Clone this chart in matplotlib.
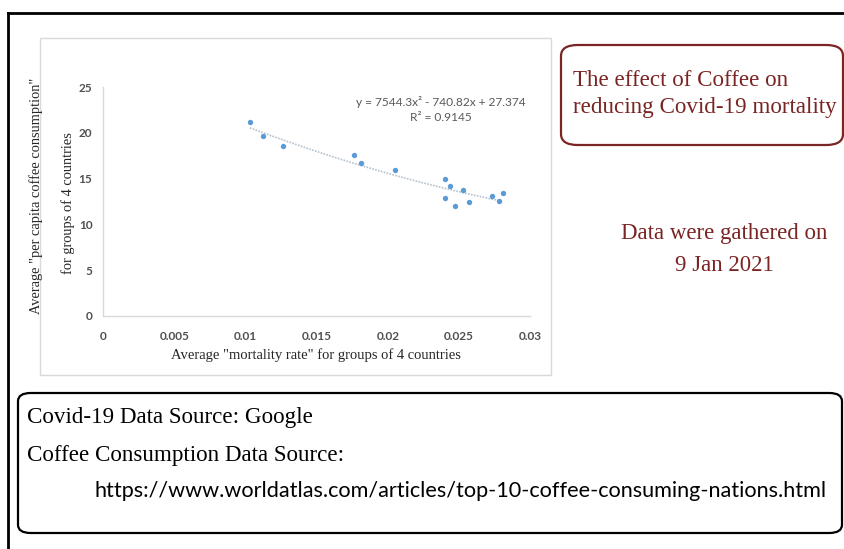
import matplotlib
matplotlib.use("Agg")
import matplotlib.pyplot as plt
import numpy as np
from matplotlib.patches import Rectangle, FancyBboxPatch
from matplotlib.lines import Line2D

# ---- data ----
mortality_rate = [0.0103, 0.0112, 0.0126, 0.0176, 0.0181, 0.0205, 0.0240, 0.0244,
                  0.0240, 0.0247, 0.0253, 0.0257, 0.0273, 0.0278, 0.0281]
coffee_consumption = [21.2, 19.6, 18.6, 17.6, 16.7, 15.9, 15.0, 14.2,
                      12.9, 12.0, 13.8, 12.4, 13.1, 12.6, 13.4]
trend_coeffs = [7544.3, -740.82, 27.374]
equation_text = "y = 7544.3x² - 740.82x + 27.374"
r2_text = "R² = 0.9145"
x_ticks = [0, 0.005, 0.01, 0.015, 0.02, 0.025, 0.03]
x_tick_labels = ["0", "0.005", "0.01", "0.015", "0.02", "0.025", "0.03"]
y_ticks = [0, 5, 10, 15, 20, 25]
y_tick_labels = ["0", "5", "10", "15", "20", "25"]

W, H = 845, 549
fig = plt.figure(figsize=(W / 100, H / 100), dpi=100)
fig.patch.set_facecolor("white")

def fx(px):
    return px / W

def fy(py):
    return 1 - py / H

SERIF = "Liberation Serif"
SANS = "Lato"
MAROON = "#7B2424"

# outer frame (top and left edges visible)
fig.add_artist(Line2D([fx(8), fx(8)], [fy(13), 0], color="black", lw=2, transform=fig.transFigure))
fig.add_artist(Line2D([fx(8), 1], [fy(13), fy(13)], color="black", lw=2, transform=fig.transFigure))

# chart box
fig.add_artist(Rectangle((fx(40), fy(375)), fx(551) - fx(40), fy(38) - fy(375),
                         transform=fig.transFigure, fill=False, edgecolor="#D9D9D9", lw=1))

# axes
ax = fig.add_axes([fx(103.5), fy(316), fx(530) - fx(103.5), fy(87) - fy(316)])
ax.set_xlim(0, 0.03)
ax.set_ylim(0, 25)
for s in ["top", "right"]:
    ax.spines[s].set_visible(False)
for s in ["left", "bottom"]:
    ax.spines[s].set_color("#D9D9D9")
    ax.spines[s].set_linewidth(1)
ax.set_xticks(x_ticks)
ax.set_xticklabels(x_tick_labels)
ax.set_yticks(y_ticks)
ax.set_yticklabels(y_tick_labels)
ax.tick_params(axis="both", length=0, labelsize=8.5, colors="#505050")
ax.tick_params(axis="x", pad=11)
ax.tick_params(axis="y", pad=8)
for lab in ax.get_xticklabels() + ax.get_yticklabels():
    lab.set_fontfamily(SANS)
    lab.set_fontweight("bold")
ax.patch.set_alpha(0)

ax.scatter(mortality_rate, coffee_consumption, s=15, color="#5B9BD5", zorder=3, linewidths=0)
xs = np.linspace(min(mortality_rate), max(mortality_rate), 200)
ax.plot(xs, np.polyval(trend_coeffs, xs), linestyle=(0, (1, 0.8)), color="#B4C2CF", lw=1.2, zorder=2)

ax.text(0.0237, 23.4, equation_text, ha="center", va="center", fontsize=8.6,
        color="#595959", fontfamily=SANS)
ax.text(0.0237, 21.7, r2_text, ha="center", va="center", fontsize=8.6,
        color="#595959", fontfamily=SANS)

# axis labels
fig.text(fx(316), fy(355), 'Average "mortality rate" for groups of 4 countries', ha="center",
         va="center", fontsize=10.5, fontfamily=SERIF, color="#262626")
fig.text(fx(36), fy(196), 'Average "per capita coffee consumption"', ha="center", va="center",
         rotation=90, fontsize=10.4, fontfamily=SERIF, color="#262626")
fig.text(fx(68), fy(203), 'for groups of 4 countries', ha="center", va="center",
         rotation=90, fontsize=10.4, fontfamily=SERIF, color="#262626")

# title box
fig.add_artist(FancyBboxPatch((fx(561), fy(145)), fx(843) - fx(561), fy(45) - fy(145),
                              boxstyle="round,pad=0,rounding_size=0.02", transform=fig.transFigure,
                              fill=False, edgecolor=MAROON, lw=1.6))
fig.text(fx(573), fy(81), "The effect of Coffee on", ha="left", va="center", fontsize=16.6,
         fontfamily=SERIF, color=MAROON)
fig.text(fx(573), fy(107), "reducing Covid-19 mortality", ha="left", va="center", fontsize=16.6,
         fontfamily=SERIF, color=MAROON)

fig.text(fx(724), fy(233), "Data were gathered on", ha="center", va="center", fontsize=16.5,
         fontfamily=SERIF, color=MAROON)
fig.text(fx(724), fy(266), "9 Jan 2021", ha="center", va="center", fontsize=16.5,
         fontfamily=SERIF, color=MAROON)

# sources box
fig.add_artist(FancyBboxPatch((fx(18), fy(533)), fx(842) - fx(18), fy(393) - fy(533),
                              boxstyle="round,pad=0,rounding_size=0.015", transform=fig.transFigure,
                              fill=False, edgecolor="black", lw=1.6))
fig.text(fx(27), fy(417), "Covid-19 Data Source: Google", ha="left", va="center", fontsize=16.6,
         fontfamily=SERIF, color="black")
fig.text(fx(27), fy(456), "Coffee Consumption Data Source:", ha="left", va="center", fontsize=16.6,
         fontfamily=SERIF, color="black")
fig.text(fx(95), fy(491), "https://www.worldatlas.com/articles/top-10-coffee-consuming-nations.html",
         ha="left", va="center", fontsize=15.6, fontfamily=SANS, color="black")

fig.savefig("out.png", dpi=100)
